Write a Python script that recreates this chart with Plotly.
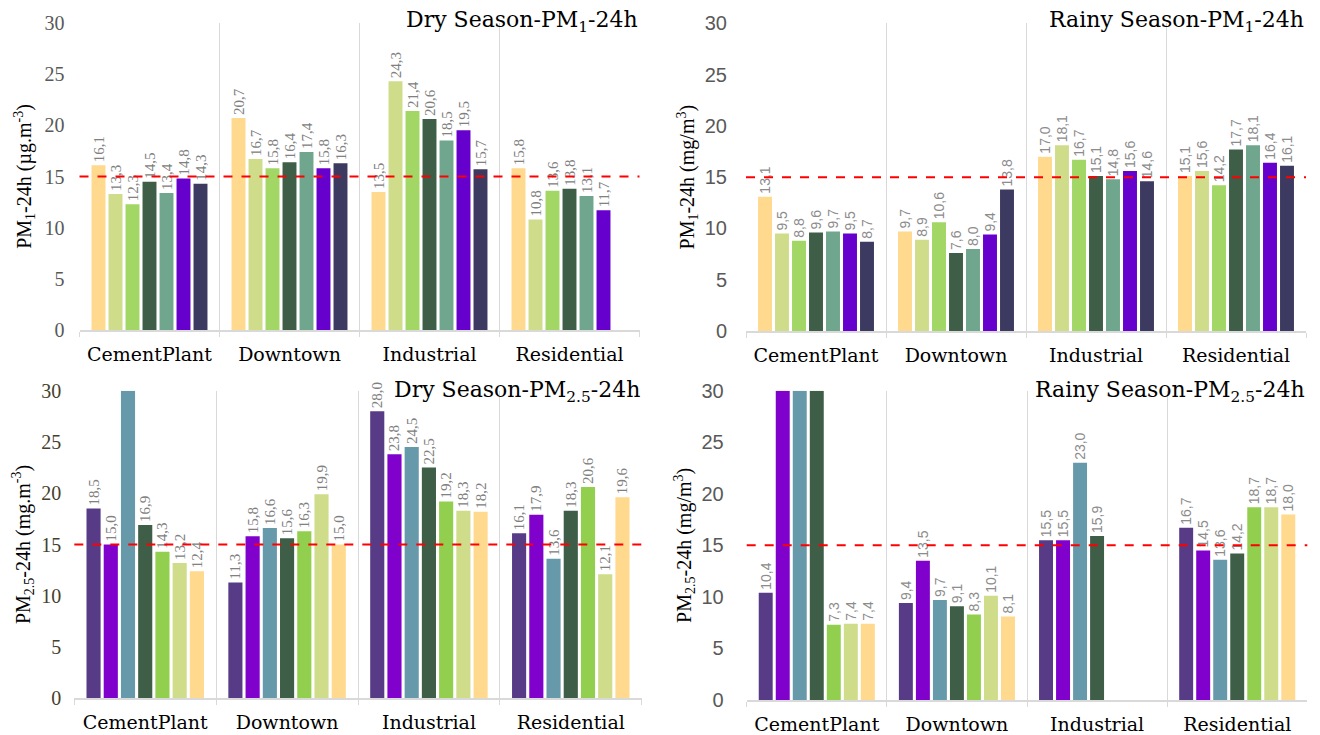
import plotly.graph_objects as go

SITES = ["CementPlant", "Downtown", "Industrial", "Residential"]
YMAX = 30
LIMIT = 15  # guideline value (red dashed line)

# ---- Dry season PM1 (7 samples per site) ----
dry_pm1_cementplant = [16.1, 13.3, 12.3, 14.5, 13.4, 14.8, 14.3]
dry_pm1_downtown = [20.7, 16.7, 15.8, 16.4, 17.4, 15.8, 16.3]
dry_pm1_industrial = [13.5, 24.3, 21.4, 20.6, 18.5, 19.5, 15.7]
dry_pm1_residential = [15.8, 10.8, 13.6, 13.8, 13.1, 11.7, None]

# ---- Rainy season PM1 ----
rainy_pm1_cementplant = [13.1, 9.5, 8.8, 9.6, 9.7, 9.5, 8.7]
rainy_pm1_downtown = [9.7, 8.9, 10.6, 7.6, 8.0, 9.4, 13.8]
rainy_pm1_industrial = [17.0, 18.1, 16.7, 15.1, 14.8, 15.6, 14.6]
rainy_pm1_residential = [15.1, 15.6, 14.2, 17.7, 18.1, 16.4, 16.1]

# ---- Dry season PM2.5 (values above 30 exceed the axis, unlabeled) ----
dry_pm25_cementplant = [18.5, 15.0, 32.0, 16.9, 14.3, 13.2, 12.4]
dry_pm25_downtown = [11.3, 15.8, 16.6, 15.6, 16.3, 19.9, 15.0]
dry_pm25_industrial = [28.0, 23.8, 24.5, 22.5, 19.2, 18.3, 18.2]
dry_pm25_residential = [16.1, 17.9, 13.6, 18.3, 20.6, 12.1, 19.6]

# ---- Rainy season PM2.5 ----
rainy_pm25_cementplant = [10.4, 32.0, 32.0, 32.0, 7.3, 7.4, 7.4]
rainy_pm25_downtown = [9.4, 13.5, 9.7, 9.1, 8.3, 10.1, 8.1]
rainy_pm25_industrial = [15.5, 15.5, 23.0, 15.9, None, None, None]
rainy_pm25_residential = [16.7, 14.5, 13.6, 14.2, 18.7, 18.7, 18.0]

PM1_COLORS = ["#FFD98E", "#CFDD8A", "#A2D665", "#3F5E47", "#6FA68D", "#6600CC", "#3C3A60"]
PM25_COLORS = ["#573B87", "#8000CC", "#6699AA", "#3F5E47", "#92CF4E", "#CFDD8A", "#FFD98E"]

OFF = 8  # page body margin
W, H = 1320 - OFF, 735 - OFF

panels = [
    dict(data=[dry_pm1_cementplant, dry_pm1_downtown, dry_pm1_industrial, dry_pm1_residential],
         colors=PM1_COLORS,
         title="Dry Season-PM<sub>1</sub>-24h",
         ytitle="PM<sub>1</sub>-24h (µg.m<sup>-3</sup>)",
         px=(79.5, 639.5), py=(22.7, 330.3), title_y=22,
         tickfont="Liberation Serif", tickcolor="#595959", tickstand=14, titlestand=7,
         lblfont=dict(family="Liberation Serif", size=15, color="#808080")),
    dict(data=[rainy_pm1_cementplant, rainy_pm1_downtown, rainy_pm1_industrial, rainy_pm1_residential],
         colors=PM1_COLORS,
         title="Rainy Season-PM<sub>1</sub>-24h",
         ytitle="PM<sub>1</sub>-24h (mg/m<sup>3</sup>)",
         px=(746, 1306), py=(23.3, 331), title_y=22,
         tickfont="Liberation Sans", tickcolor="#595959", tickstand=18, titlestand=4,
         lblfont=dict(family="Liberation Sans", size=14, color="#8C8C8C")),
    dict(data=[dry_pm25_cementplant, dry_pm25_downtown, dry_pm25_industrial, dry_pm25_residential],
         colors=PM25_COLORS,
         title="Dry Season-PM<sub>2.5</sub>-24h",
         ytitle="PM<sub>2.5</sub>-24h (mg.m<sup>-3</sup>)",
         px=(74.3, 641.7), py=(390.7, 698.3), title_y=391,
         tickfont="Liberation Serif", tickcolor="#45402C", tickstand=12, titlestand=5,
         lblfont=dict(family="Liberation Serif", size=15, color="#808080")),
    dict(data=[rainy_pm25_cementplant, rainy_pm25_downtown, rainy_pm25_industrial, rainy_pm25_residential],
         colors=PM25_COLORS,
         title="Rainy Season-PM<sub>2.5</sub>-24h",
         ytitle="PM<sub>2.5</sub>-24h (mg/m<sup>3</sup>)",
         px=(746.7, 1307.3), py=(390.7, 700), title_y=391,
         tickfont="Liberation Sans", tickcolor="#595959", tickstand=22, titlestand=4,
         lblfont=dict(family="Liberation Sans", size=14, color="#8C8C8C")),
]


def fmt(v):
    if v is None or v > YMAX:
        return None
    return f"{v:.1f}".replace(".", ",")


fig = go.Figure()
layout = dict(
    width=W, height=H,
    margin=dict(l=0, r=0, t=0, b=0),
    paper_bgcolor="white", plot_bgcolor="white",
    barmode="group", bargap=0.15, bargroupgap=0.18,
    showlegend=False,
    annotations=[], shapes=[],
)

for k, p in enumerate(panels, start=1):
    xa = "x" if k == 1 else f"x{k}"
    ya = "y" if k == 1 else f"y{k}"
    xkey = "xaxis" if k == 1 else f"xaxis{k}"
    ykey = "yaxis" if k == 1 else f"yaxis{k}"
    for i in range(7):
        vals = [site[i] for site in p["data"]]
        shown = [None if v is None else min(v, YMAX) for v in vals]
        fig.add_trace(go.Bar(
            x=SITES, y=shown, marker=dict(color=p["colors"][i], line=dict(width=0)),
            text=[fmt(v) for v in vals], textposition="outside", textangle=-90,
            textfont=p["lblfont"], constraintext="none", cliponaxis=False,
            xaxis=xa, yaxis=ya, hoverinfo="skip",
        ))
    x0, x1 = p["px"][0] - OFF, p["px"][1] - OFF
    yt, yb = p["py"][0] - OFF, p["py"][1] - OFF
    layout[xkey] = dict(
        domain=[x0 / W, x1 / W], anchor=ya,
        type="category", range=[-0.5, 3.5], tickson="boundaries",
        showgrid=True, gridcolor="#D9D9D9", gridwidth=1,
        showline=True, linecolor="#D9D9D9", linewidth=2,
        ticks="outside", ticklen=5, tickcolor="#D9D9D9",
        tickfont=dict(family="DejaVu Serif", size=19, color="#000000"),
        ticklabelstandoff=6, automargin=False, fixedrange=True,
    )
    layout[ykey] = dict(
        domain=[1 - yb / H, 1 - yt / H], anchor=xa,
        range=[0, YMAX], tickvals=[0, 5, 10, 15, 20, 25, 30],
        showgrid=False, zeroline=False, showline=False, ticks="",
        tickfont=dict(family=p["tickfont"], size=20, color=p["tickcolor"]),
        ticklabelstandoff=p["tickstand"], automargin=False,
        title=dict(text=p["ytitle"], standoff=p["titlestand"],
                   font=dict(family="Liberation Serif", size=20, color="#000000")),
    )
    layout["annotations"].append(dict(
        text=p["title"], xref=f"{xa} domain", x=1.0, xanchor="right",
        yref="paper", y=1 - (p["title_y"] - OFF) / H, yanchor="middle", showarrow=False,
        font=dict(family="DejaVu Serif", size=22, color="#000000"),
    ))
    layout["shapes"].append(dict(
        type="line", xref=f"{xa} domain", x0=0, x1=1, yref=ya, y0=LIMIT, y1=LIMIT,
        line=dict(color="#FF0000", width=2, dash="dash"), layer="above",
    ))

fig.update_layout(**layout)
fig.write_html("out.html")
